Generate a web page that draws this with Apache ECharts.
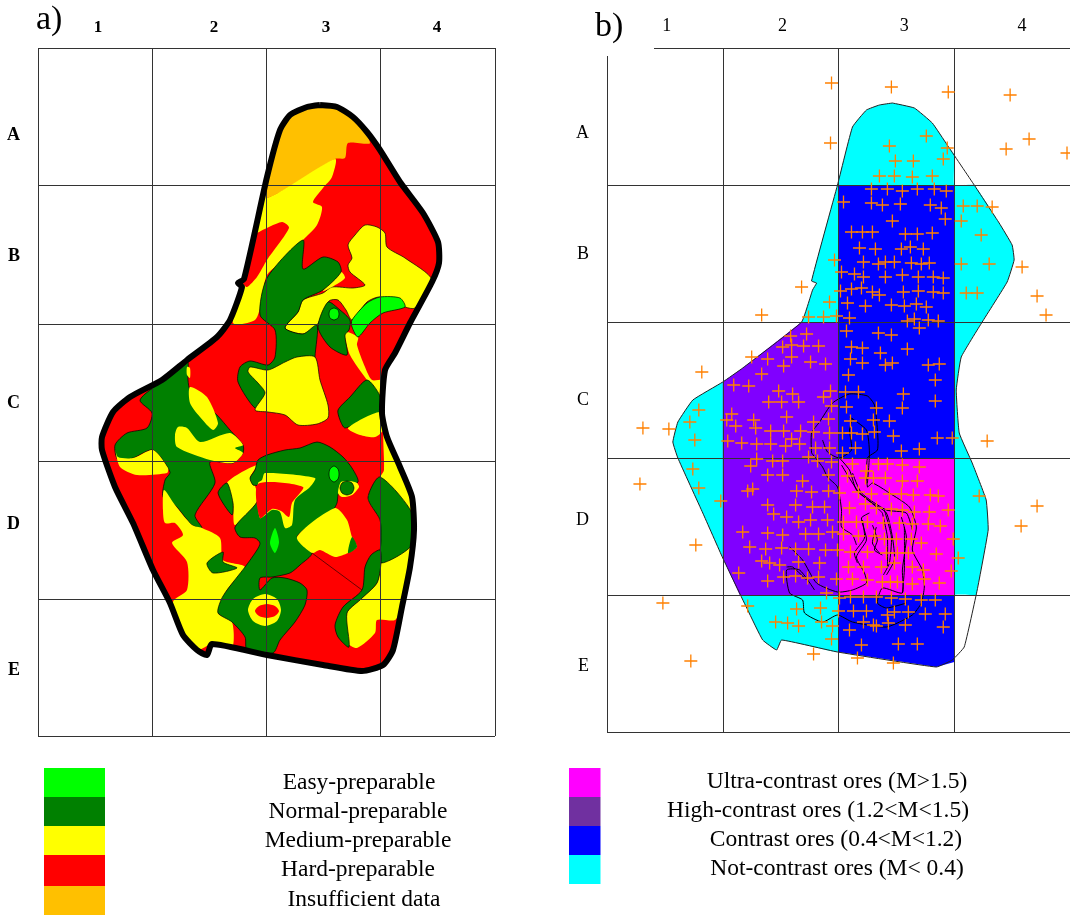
<!DOCTYPE html>
<html><head><meta charset="utf-8">
<style>html,body{margin:0;padding:0;background:#fff}#c{width:1070px;height:915px}</style>
<script src="https://cdn.jsdelivr.net/npm/echarts@6/dist/echarts.min.js"></script>
</head><body><div id="c"></div>
<script>
const columns=['1','2','3','4'];
const rows=['A','B','C','D','E'];
const aGridX=[38,152,266,380,495], aGridY=[48,185,324,461,599,736];
const bGridX=[607,723,839,955,1071], bGridY=[48,185,322,458,595,732];
const aLabelX=[98,214,326,437], aLabelY=[135,256,403,524,670];
const bLabelX=[667,783,905,1023], bLabelY=[133,254,400,520,666];
const legendA=['Easy-preparable','Normal-preparable','Medium-preparable','Hard-preparable','Insufficient data'];
const legendB=['Ultra-contrast ores (M>1.5)','High-contrast ores (1.2<M<1.5)','Contrast ores (0.4<M<1.2)','Not-contrast ores (M< 0.4)'];

// Panel a: zones, in map units
const outlineA=[[320,105],[337,107],[353,117],[367,132],[380,150],[400,182],[423,213],[438,242],[439,263],[432,282],[410,323],[395,353],[385,370],[382,413],[387,437],[400,467],[412,497],[414,530],[410,567],[402,607],[393,650],[383,665],[362,671],[323,665],[267,655],[212,644],[207,655],[197,650],[183,635],[170,603],[153,570],[133,523],[115,487],[102,450],[102,437],[113,412],[130,397],[162,380],[187,360],[217,337],[230,320],[242,287],[238,283],[244,279],[267,177],[280,130],[290,115],[307,107]];
const insufficient=[[267,198],[335,159],[345,158],[348,143],[370,143],[353,117],[337,107],[320,105],[307,107],[290,115],[280,130],[267,177]];
const yellowUpper=[[267,198],[335,159],[332,177],[323,188],[313,202],[322,207],[317,225],[303,240],[290,255],[267,275],[262,300],[255,320],[233,323],[242,287],[238,283],[244,279],[267,177]];
const redSliver=[[257,233],[282,222],[289,228],[267,260],[257,277],[247,287],[243,283],[253,237]];
const yellowRight=[[365,225],[377,227],[385,233],[387,247],[405,258],[432,280],[415,308],[405,307],[380,297],[367,302],[352,320],[346,310],[338,300],[329,301],[317,325],[303,334],[285,328],[298,312],[303,300],[323,293],[332,287],[353,288],[365,285],[350,272],[348,265],[352,258],[348,245],[355,235]];
const yellowStrip=[[341,272],[345,278],[332,287],[323,291]];
const yellowC3=[[345,332],[358,337],[357,345],[365,367],[372,380],[384,380],[384,396],[378,396],[367,380],[350,355]];
const greenUpper=[[303,240],[303,269],[323,257],[338,262],[341,272],[323,290],[303,300],[298,312],[285,328],[303,334],[317,325],[315,357],[315,385],[280,385],[262,400],[255,408],[238,382],[240,367],[250,361],[268,365],[275,357],[275,330],[260,315],[267,278]];
const yellowCentre=[[250,367],[268,370],[285,362],[297,357],[315,357],[320,380],[328,405],[328,418],[317,424],[298,425],[285,415],[268,412],[255,410],[265,393],[258,383],[248,372]];
const greenTriangle=[[328,302],[340,310],[350,320],[349,330],[345,335],[347,355],[330,347],[318,327]];
const lightEllipse1=[[334,308],[338,310],[339,314],[338,318],[334,320],[330,318],[329,314],[330,310]];
const lightBig=[[352,320],[367,303],[380,297],[400,298],[405,307],[383,313],[370,323],[358,337],[352,327]];
const greenC4=[[367,380],[380,396],[380,412],[362,420],[345,428],[340,420],[338,410],[350,397]];
const yellowC4=[[348,428],[380,412],[383,430],[375,437],[360,435]];
const yellowEast=[[384,432],[400,467],[412,497],[414,530],[410,567],[402,607],[395,620],[377,620],[375,633],[357,648],[348,643],[347,613],[360,600],[377,583],[381,563],[380,520],[368,498],[380,477],[384,470]];
const greenEast=[[380,477],[368,498],[380,520],[381,540],[381,563],[412,545],[412,513]];
const greenBand=[[380,550],[371,555],[365,567],[362,590],[343,607],[335,625],[338,637],[349,647],[347,613],[360,600],[377,583],[381,563]];
const greenWest=[[140,400],[162,381],[187,360],[188,380],[190,390],[205,405],[217,415],[230,430],[243,445],[243,453],[233,463],[210,462],[215,483],[195,515],[202,528],[192,525],[175,505],[163,497],[165,480],[170,472],[153,450],[133,458],[118,460],[115,445],[127,433],[147,428],[152,413]];
const yellowWest1=[[190,387],[207,397],[218,423],[213,430],[200,417],[190,403]];
const yellowWest2=[[178,427],[187,428],[200,442],[230,433],[243,445],[235,448],[243,453],[233,463],[210,460],[177,447],[175,435]];
const yellowWest3=[[115,448],[120,467],[137,475],[167,473],[168,468],[153,450],[133,458],[118,457]];
const yellowSpeck=[[187,367],[190,368],[190,378],[187,375]];
const yellowLower=[[164,490],[163,510],[165,523],[175,523],[183,535],[172,543],[187,562],[187,590],[173,602],[185,635],[197,650],[212,644],[232,648],[232,622],[218,613],[227,590],[245,567],[223,560],[220,538],[202,528],[192,525],[175,505]];
const greenSmall=[[207,563],[223,552],[223,562],[237,568],[213,573]];
const yellowNotch=[[227,483],[257,465],[250,478],[255,486],[258,500],[235,525],[233,503]];
const greenLobe=[[218,493],[227,483],[233,503],[232,515]];
const greenCentre=[[258,460],[267,455],[285,450],[300,448],[317,442],[330,447],[343,457],[352,468],[358,482],[340,490],[338,495],[337,503],[333,510],[315,522],[297,537],[312,553],[300,565],[290,573],[272,577],[260,578],[260,590],[272,578],[285,578],[300,583],[307,590],[305,605],[295,622],[280,640],[273,653],[247,650],[245,637],[232,622],[218,613],[221,600],[227,590],[245,567],[257,550],[260,543],[255,538],[240,537],[235,527],[257,502],[258,486],[253,485],[250,478],[255,470]];
const yellowFrame=[[265,473],[315,478],[310,487],[295,500],[292,525],[285,528],[280,512],[272,510],[260,518],[258,483],[262,480]];
const redFrame=[[258,484],[303,487],[292,503],[289,517],[281,511],[272,509],[260,518]];
const lightEllipse2=[[334,466],[338,469],[339,474],[338,479],[334,482],[330,479],[329,474],[330,469]];
const lightSpindle=[[275,528],[270,543],[275,553],[279,542]];
const yellowCrescent=[[338,493],[341,482],[350,481],[357,483],[359,487],[352,495],[342,497]];
const greenCircle=[[347,481],[352,483],[354,488],[352,493],[347,495],[342,493],[340,488],[342,483]];
const yellowD3=[[297,537],[335,508],[347,520],[352,537],[357,547],[348,553],[335,557],[320,550],[312,553]];
const greenD3=[[352,537],[357,547],[348,553]];
const yellowRing=[[265,594],[277,599],[281,610],[277,621],[265,626],[253,621],[248,610],[253,599]];
const redRing=[[267,604],[275,606],[279,611],[275,616],[267,618],[259,616],[255,611],[259,606]];
const seam=[[312,553],[362,590]];

// Panel b: contrast zones, in map units
const outlineB=[[893,103],[915,108],[933,123],[948,145],[975,185],[1000,223],[1013,245],[1015,260],[1008,282],[983,322],[962,357],[957,390],[960,433],[973,463],[987,500],[989,530],[978,590],[965,647],[953,660],[937,667],[838,652],[782,640],[777,650],[763,640],[748,610],[723,558],[703,513],[678,458],[673,442],[678,422],[693,400],[723,382],[743,368],[802,322],[813,290],[817,283],[812,281],[838,185],[853,127],[867,110],[880,105]];
const notContrast=[[893,103],[915,108],[933,123],[948,145],[955,155],[955,185],[975,185],[1000,223],[1013,245],[1015,260],[1008,282],[983,322],[962,357],[957,390],[960,433],[973,463],[987,500],[989,530],[978,590],[977,595],[955,595],[950,640],[838,652],[782,640],[777,650],[763,640],[748,610],[723,558],[703,513],[678,458],[673,442],[678,422],[693,400],[723,382],[743,368],[802,322],[813,290],[817,283],[812,281],[838,185],[853,127],[867,110],[880,105]];
const highContrast=[[802,322],[839,322],[839,595],[740,595],[723,558],[723,382],[743,368]];
const contrastNorth=[[839,185],[955,185],[955,458],[839,458]];
const contrastSouth=[[839,595],[955,595],[955,662],[937,667],[839,652]];
const ultraContrast=[[839,458],[955,458],[955,595],[839,595]];
const contour1=[[812,453],[812,433],[820,422],[833,403],[850,394],[868,396],[875,405],[878,430],[878,450],[868,458],[868,487],[873,483],[890,493],[910,507],[917,527],[913,550],[923,570],[925,587],[922,603],[913,615],[887,627],[853,622],[838,615],[823,622],[805,613],[803,600],[790,593],[787,570],[800,570],[815,590]];
const contour2=[[812,453],[823,467],[828,477],[838,487],[842,510],[842,527],[853,535],[857,545]];
const contour3=[[850,417],[867,430],[870,453],[868,483]];
const contour4=[[823,440],[828,452],[840,458],[852,450],[850,430],[853,418]];
const contour5=[[840,458],[850,470],[857,490],[873,503],[887,513],[893,537],[895,560],[887,575]];
const contour6=[[870,513],[862,518],[867,540],[857,557],[865,573],[867,583],[853,590],[838,592],[817,583],[803,560],[790,547]];
const contour7=[[885,510],[892,537],[890,563],[884,575]];
const contour8=[[902,517],[907,537],[903,570],[903,593],[883,588],[878,603],[887,608],[907,603]];
const contour9=[[873,525],[878,540],[875,550],[883,555]];
const contour10=[[853,473],[862,493],[887,510],[907,513],[913,530]];
const contour11=[[842,465],[853,483],[860,493],[877,507],[883,513]];
const contour12=[[858,563],[855,553],[865,538],[863,520]];
const contour13=[[883,513],[888,537],[888,567]];
const contour14=[[905,527],[905,570],[903,593]];
const contour15=[[787,567],[793,567],[807,580]];
const contour16=[[877,527],[873,543],[880,553]];
const samples=[[832,83],[892,87],[949,92],[1011,95],[831,143],[927,136],[890,146],[948,148],[944,159],[1030,139],[1007,149],[1068,153],[896,161],[914,161],[880,176],[895,176],[913,177],[933,176],[872,189],[888,189],[903,191],[918,189],[935,189],[947,191],[844,202],[872,203],[883,205],[901,204],[931,205],[942,208],[964,206],[978,206],[993,207],[893,221],[946,219],[962,221],[852,232],[863,232],[873,232],[906,234],[918,234],[933,233],[982,235],[860,248],[876,249],[902,249],[911,247],[924,249],[835,260],[864,262],[879,264],[886,262],[895,262],[912,263],[922,264],[930,263],[962,264],[990,264],[1023,267],[842,272],[855,274],[864,277],[886,277],[903,275],[919,277],[934,277],[944,278],[802,287],[841,291],[852,289],[862,288],[873,292],[880,295],[904,292],[919,291],[934,292],[944,293],[967,293],[978,293],[1038,296],[830,302],[848,303],[866,306],[892,305],[905,306],[917,304],[927,307],[762,315],[809,317],[824,317],[837,316],[850,318],[908,321],[915,319],[929,320],[939,321],[1047,315],[847,331],[879,333],[892,335],[920,328],[807,334],[791,336],[783,347],[792,345],[804,346],[819,346],[852,347],[863,348],[881,353],[908,349],[752,357],[768,359],[792,357],[811,362],[826,364],[784,366],[851,359],[863,363],[886,365],[893,363],[929,365],[940,364],[702,372],[734,385],[749,386],[762,374],[849,375],[936,380],[904,394],[936,401],[903,408],[779,391],[793,394],[769,402],[782,402],[799,402],[824,397],[831,391],[846,392],[859,392],[832,406],[847,407],[877,408],[699,410],[732,414],[787,417],[727,420],[754,420],[814,422],[829,419],[851,421],[874,420],[890,421],[643,428],[669,429],[690,422],[736,426],[756,428],[771,431],[784,431],[801,431],[814,432],[830,433],[843,433],[852,433],[863,434],[875,432],[894,436],[695,440],[728,441],[742,443],[757,444],[771,444],[792,439],[786,446],[800,444],[938,438],[953,438],[988,441],[816,448],[830,448],[856,448],[843,453],[902,451],[920,449],[809,457],[757,459],[773,461],[783,461],[818,461],[832,462],[853,464],[879,464],[888,464],[903,465],[920,467],[751,466],[693,469],[640,484],[699,488],[768,475],[783,475],[829,475],[848,476],[867,471],[866,478],[874,478],[886,478],[903,481],[918,481],[803,481],[748,491],[753,489],[797,491],[812,492],[829,491],[840,493],[859,492],[872,494],[890,494],[902,494],[914,495],[931,495],[939,496],[980,496],[1038,506],[721,501],[768,505],[796,505],[813,507],[825,507],[850,508],[866,504],[877,508],[892,509],[903,510],[915,512],[930,512],[949,510],[774,514],[787,517],[799,522],[811,520],[828,520],[844,522],[857,522],[868,522],[884,523],[900,523],[913,524],[929,524],[941,526],[1022,526],[743,532],[768,533],[783,535],[806,534],[819,534],[833,532],[844,534],[859,536],[875,536],[885,539],[897,539],[912,539],[922,543],[954,539],[696,545],[750,547],[766,549],[782,548],[796,549],[809,549],[826,550],[838,550],[851,552],[868,552],[887,553],[898,553],[909,553],[937,554],[762,561],[770,563],[780,565],[799,562],[820,563],[849,567],[864,567],[882,567],[895,563],[913,567],[924,570],[952,571],[959,558],[739,573],[768,581],[784,577],[796,576],[808,578],[819,577],[837,579],[853,579],[868,580],[883,582],[891,582],[898,582],[913,584],[925,579],[940,583],[827,593],[840,598],[851,597],[864,597],[877,597],[892,598],[906,599],[922,600],[936,600],[663,603],[748,606],[797,609],[821,608],[839,611],[854,611],[867,611],[888,615],[895,612],[909,612],[926,614],[946,614],[776,622],[788,623],[799,626],[822,622],[833,626],[850,630],[864,622],[874,625],[877,626],[889,623],[906,625],[944,627],[832,639],[862,645],[899,644],[918,644],[814,654],[858,658],[894,663],[691,661]];

const C={light:'#00ff00',green:'#008000',yellow:'#ffff00',red:'#ff0000',orange:'#ffc000',magenta:'#ff00ff',violet:'#8000ff',legendViolet:'#7030a0',blue:'#0000ff',cyan:'#00ffff'};
const SERIF='"Liberation Serif","Times New Roman",serif';

function poly(points,fill,panel,opt){
  opt=opt||{};
  return {type:'custom',coordinateSystem:'cartesian2d',xAxisIndex:panel,yAxisIndex:panel,silent:true,clip:false,z:opt.z||2,animation:false,
    data:points,encode:{x:0,y:1},
    renderItem:function(params,api){
      if(params.dataIndex!==0) return null;
      const pts=points.map(p=>api.coord(p));
      return {type:opt.line?'polyline':'polygon',shape:{points:pts,smooth:opt.smooth===undefined?0.25:opt.smooth},
        style:{fill:opt.line?null:fill,stroke:opt.stroke||null,lineWidth:opt.width||0}};
    }};
}
const thin={stroke:'#000',width:0.7};
const series=[
  poly(outlineA,C.red,0),
  poly(insufficient,C.orange,0),
  poly(yellowUpper,C.yellow,0),
  poly(redSliver,C.red,0),
  poly(yellowRight,C.yellow,0,thin),
  poly(yellowStrip,C.yellow,0),
  poly(yellowC3,C.yellow,0),
  poly(greenUpper,C.green,0,thin),
  poly(yellowCentre,C.yellow,0,thin),
  poly(greenTriangle,C.green,0,thin),
  poly(lightEllipse1,C.light,0,thin),
  poly(lightBig,C.light,0,thin),
  poly(greenC4,C.green,0,thin),
  poly(yellowC4,C.yellow,0),
  poly(yellowEast,C.yellow,0),
  poly(greenEast,C.green,0,thin),
  poly(greenBand,C.green,0,thin),
  poly(greenWest,C.green,0,thin),
  poly(yellowWest1,C.yellow,0),
  poly(yellowWest2,C.yellow,0),
  poly(yellowWest3,C.yellow,0),
  poly(yellowSpeck,C.yellow,0),
  poly(yellowLower,C.yellow,0),
  poly(greenSmall,C.green,0,thin),
  poly(yellowNotch,C.yellow,0),
  poly(greenLobe,C.green,0,thin),
  poly(greenCentre,C.green,0,thin),
  poly(yellowFrame,C.yellow,0),
  poly(redFrame,C.red,0),
  poly(lightEllipse2,C.light,0,thin),
  poly(lightSpindle,C.light,0),
  poly(yellowCrescent,C.yellow,0),
  poly(greenCircle,C.green,0,thin),
  poly(yellowD3,C.yellow,0),
  poly(greenD3,C.green,0),
  poly(yellowRing,C.yellow,0),
  poly(redRing,C.red,0),
  poly(seam,null,0,{line:true,stroke:'#400',width:0.8,smooth:0}),
  poly(outlineA.concat([outlineA[0]]),null,0,{line:true,stroke:'#000',width:6,z:7,smooth:0.2}),
  poly(notContrast,C.cyan,1,{smooth:0.1}),
  poly(highContrast,C.violet,1,{smooth:0}),
  poly(contrastNorth,C.blue,1,{smooth:0}),
  poly(contrastSouth,C.blue,1,{smooth:0}),
  poly(ultraContrast,C.magenta,1,{smooth:0}),
  poly(outlineB.concat([outlineB[0]]),null,1,{line:true,stroke:'#222',width:1,z:3,smooth:0.1}),
].concat([contour1,contour2,contour3,contour4,contour5,contour6,contour7,contour8,contour9,contour10,contour11,contour12,contour13,contour14,contour15,contour16].map(c=>poly(c,null,1,{line:true,stroke:'#000',width:1,z:3,smooth:0.2})));
series.push({type:'scatter',xAxisIndex:1,yAxisIndex:1,data:samples,clip:false,silent:true,z:8,animation:false,
  symbol:'path://M0 6H12M6 0V12',symbolSize:13,itemStyle:{color:'none',borderColor:'#ff8000',borderWidth:1.3,opacity:1}});

function xAxis(panel,lines,labels,font){return {type:'value',gridIndex:panel,position:'top',min:lines[0],max:lines[lines.length-1],z:5,
  axisLine:{show:false},axisTick:{show:false,customValues:lines},
  splitLine:{show:true,lineStyle:{color:'#333',width:1,type:'solid'},showMinLine:true,showMaxLine:true},
  axisLabel:Object.assign({show:true,customValues:labels,margin:13,color:'#000',fontFamily:SERIF,formatter:v=>columns[labels.indexOf(v)]},font)};}
function yAxis(panel,lines,labels,font){return {type:'value',gridIndex:panel,inverse:true,min:lines[0],max:lines[lines.length-1],z:5,
  axisLine:{show:false},axisTick:{show:false,customValues:lines},
  splitLine:{show:true,lineStyle:{color:'#333',width:1,type:'solid'},showMinLine:true,showMaxLine:true},
  axisLabel:Object.assign({show:true,customValues:labels,margin:18,color:'#000',fontFamily:SERIF,formatter:v=>rows[labels.indexOf(v)]},font)};}

const swA=[C.light,C.green,C.yellow,C.red,C.orange], swAY=[768,797,826,855,886,915];
const swB=[C.magenta,C.legendViolet,C.blue,C.cyan], swBY=[768,797,826,855,884];
const txtAX=[359,358,358,358,364], txtAY=[783,812,841,870,900];
const txtBX=[837,818,836,837], txtBY=[782,811,840,869];
const graphic=[
  {type:'rect',z:100,shape:{x:600,y:44,width:54,height:12},style:{fill:'#fff'}},
  {type:'text',z:101,x:36,y:3,style:{text:'a)',font:'34px '+SERIF,fill:'#000'}},
  {type:'text',z:101,x:595,y:10,style:{text:'b)',font:'34px '+SERIF,fill:'#000'}}
];
swA.forEach((c,i)=>graphic.push({type:'rect',shape:{x:44,y:swAY[i],width:61,height:swAY[i+1]-swAY[i]},style:{fill:c}}));
swB.forEach((c,i)=>graphic.push({type:'rect',shape:{x:569,y:swBY[i],width:31.5,height:swBY[i+1]-swBY[i]},style:{fill:c}}));
legendA.forEach((t,i)=>graphic.push({type:'text',x:txtAX[i],y:txtAY[i],style:{text:t,font:'23.5px '+SERIF,fill:'#000',textAlign:'center',textVerticalAlign:'middle'}}));
legendB.forEach((t,i)=>graphic.push({type:'text',x:txtBX[i],y:txtBY[i],style:{text:t,font:'23.5px '+SERIF,fill:'#000',textAlign:'center',textVerticalAlign:'middle'}}));

const chart=echarts.init(document.getElementById('c'),null,{renderer:'canvas'});
chart.setOption({animation:false,backgroundColor:'#fff',
  grid:[{left:38,top:48,width:457,height:688,containLabel:false},{left:607,top:48,width:464,height:684,containLabel:false}],
  xAxis:[xAxis(0,aGridX,aLabelX,{fontSize:17,fontWeight:'bold',margin:12}),xAxis(1,bGridX,bLabelX,{fontSize:18})],
  yAxis:[yAxis(0,aGridY,aLabelY,{fontSize:18,fontWeight:'bold'}),yAxis(1,bGridY,bLabelY,{fontSize:18})],
  series:series,graphic:graphic});
</script></body></html>
